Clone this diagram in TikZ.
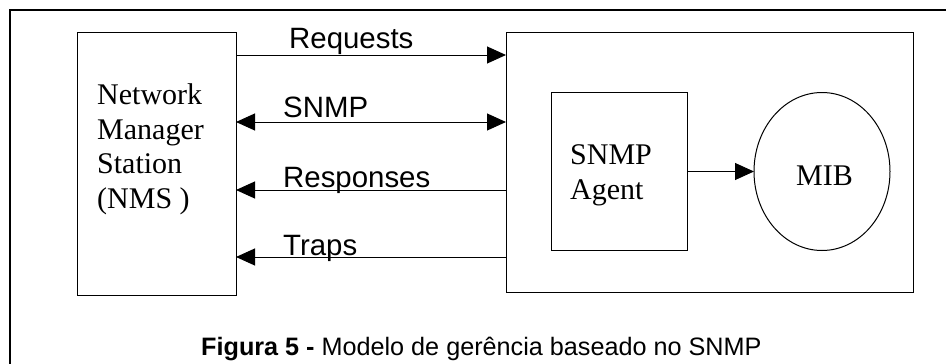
\documentclass[tikz,border=0pt]{standalone}
\usepackage{fontspec}
\setmainfont{Liberation Serif}
\setsansfont{Liberation Sans}
\usepackage{tikz}
\usetikzlibrary{arrows.meta,calc,positioning,shapes.geometric}

\begin{document}
\begin{tikzpicture}[x=1pt,y=-1pt,
		box/.style={draw,line width=1pt,inner sep=0pt,outer sep=0pt},
		tip/.tip={Triangle[length=19pt,width=17pt]},
		flow/.style={line width=1pt,-tip},
		serif/.style={font=\fontsize{30}{34.5}\selectfont,inner sep=0pt,align=left},
		sans/.style={font=\sffamily\fontsize{29.4}{33}\selectfont,inner sep=0pt}]
		\useasboundingbox (0,0) rectangle (946,364);
		\draw[line width=1.6pt] (10,364) -- (10,10) -- (946,10);
		
		% manager and agent side
		\node[box,minimum width=159pt,minimum height=263pt] (nms) at (156.5,163.5) {};
		\node[serif,anchor=base west] (nmstxt) at (97,208) {Network\\Manager\\Station\\(NMS )};
		\node[box,minimum width=407pt,minimum height=260pt] (host) at (709.5,162) {};
		\node[box,minimum width=136pt,minimum height=158pt] (agent) at (619,171.5) {};
		\node[serif,anchor=base west] (agenttxt) at (570,199) {SNMP\\Agent};
		\node[box,ellipse,minimum width=136pt,minimum height=158pt,right=67pt of agent] (mib) {};
		\node[serif,anchor=base west] (mibtxt) at (796,185) {MIB};
		\draw[flow] (agent.east) -- (mib.west);
		
		% messages
		\coordinate (req) at (0,55);
		\coordinate (snmp) at (0,122);
		\coordinate (resp) at (0,190);
		\coordinate (trap) at (0,257);
		\draw[flow] (nms.east |- req) -- (host.west |- req);
		\draw[flow,tip-tip] (nms.east |- snmp) -- (host.west |- snmp);
		\draw[flow] (host.west |- resp) -- (nms.east |- resp);
		\draw[flow] (host.west |- trap) -- (nms.east |- trap);
		\node[sans,anchor=base west] (reqlbl) at (289,48) {Requests};
		\node[sans,anchor=base west] (snmplbl) at (283,117) {SNMP};
		\node[sans,anchor=base west] (resplbl) at (283,187) {Responses};
		\node[sans,anchor=base west] (traplbl) at (283,255) {Traps};
		
		\node[anchor=base west,inner sep=0pt,font=\sffamily\fontsize{25.2}{30}\selectfont] (caption) at (201,355) {\textbf{Figura 5 -} Modelo de gerência baseado no SNMP};
	\end{tikzpicture}
\end{document}
